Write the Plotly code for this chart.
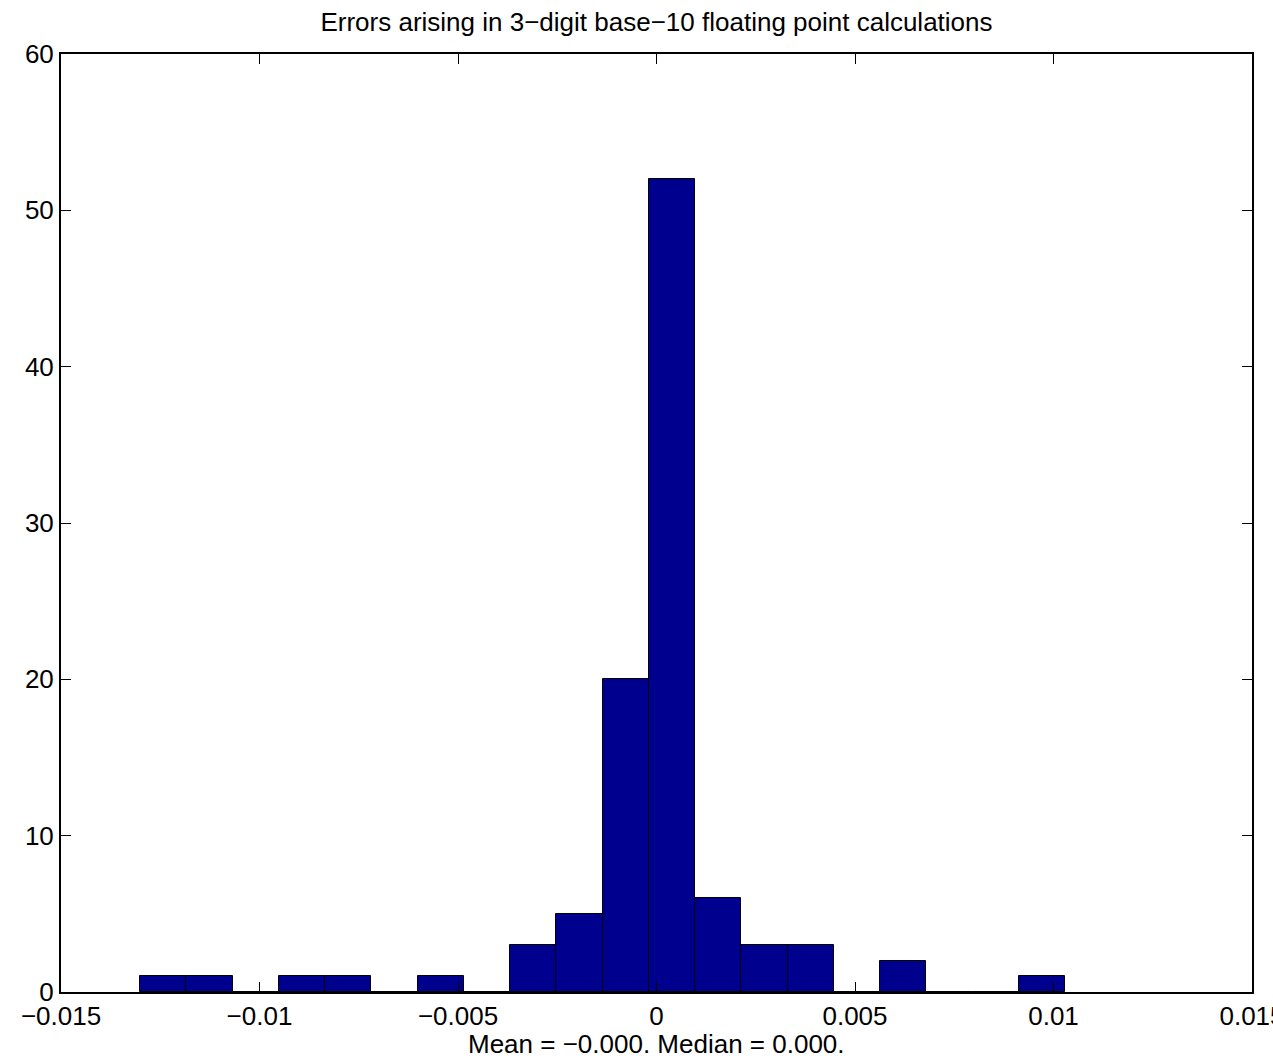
import numpy as np
import plotly.graph_objects as go

# Histogram data (20 bins)
bin_start = -0.01301
bin_width = 0.001165
counts = [1, 1, 0, 1, 1, 0, 1, 0, 3, 5, 20, 52, 6, 3, 3, 0, 2, 0, 0, 1]
x_ticks = [-0.015, -0.01, -0.005, 0, 0.005, 0.01, 0.015]
x_tick_labels = ["\u22120.015", "\u22120.01", "\u22120.005", "0", "0.005", "0.01", "0.015"]
y_ticks = [0, 10, 20, 30, 40, 50, 60]
title_text = "Errors arising in 3\u2212digit base\u221210 floating point calculations"
xlabel_text = "Mean = \u22120.000. Median = 0.000."

centers = [bin_start + bin_width * (i + 0.5) for i in range(len(counts))]

fig = go.Figure()
fig.add_trace(go.Bar(
    x=centers, y=counts, width=bin_width,
    marker=dict(color="#00008F", line=dict(color="black", width=1)),
    showlegend=False,
))

H = 1062
mt, mb = 54, 70
plot_h = H - mt - mb

font = "Liberation Sans, Arial, Helvetica, sans-serif"
fig.update_layout(
    width=1273, height=H,
    margin=dict(l=61, r=21, t=mt, b=mb),
    plot_bgcolor="white", paper_bgcolor="white",
    font=dict(family=font, size=26, color="black"),
    title=dict(text=title_text,
               x=0.5, xref="paper", xanchor="center", y=1 - 22 / H, yanchor="middle",
               font=dict(size=26)),
    bargap=0,
)
fig.add_annotation(
    text=xlabel_text, xref="paper", yref="paper", x=0.5, y=-(1044 - (H - mb)) / plot_h,
    xanchor="center", yanchor="middle", showarrow=False, font=dict(size=26),
)
fig.update_xaxes(
    range=[-0.015, 0.0150001], tickvals=x_ticks, ticktext=x_tick_labels,
    ticks="inside", ticklen=10, tickwidth=1, tickcolor="black",
    showline=True, linecolor="black", linewidth=2, mirror="ticks",
    showgrid=False, zeroline=False, automargin=False, ticklabeloverflow="allow",
)
fig.update_yaxes(
    range=[0, 60], tickvals=y_ticks,
    ticks="inside", ticklen=10, tickwidth=1, tickcolor="black",
    showline=True, linecolor="black", linewidth=2, mirror="ticks",
    showgrid=False, zeroline=False, automargin=False,
)
fig.write_html("out.html")
